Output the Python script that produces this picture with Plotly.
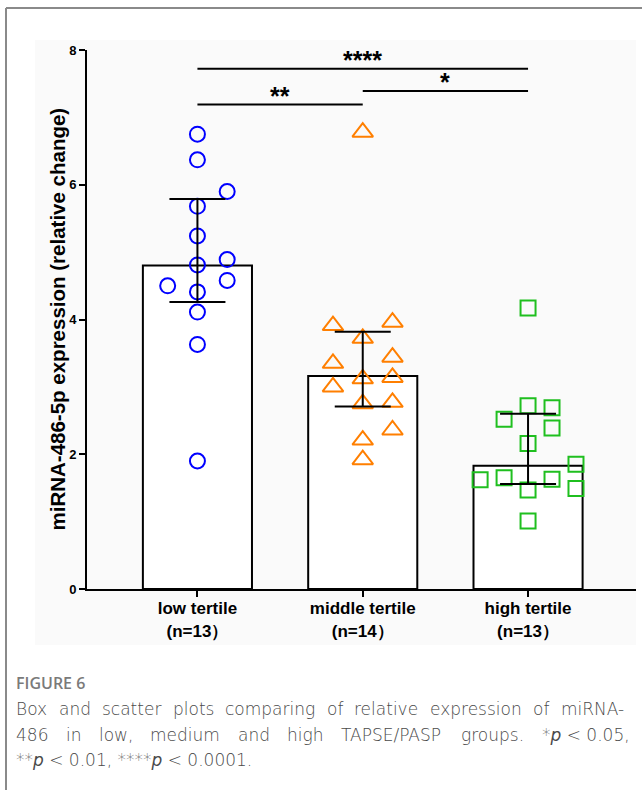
import plotly.graph_objects as go

# ---------------- data ----------------
groups = ["low tertile", "middle tertile", "high tertile"]
group_n = ["(n=13）", "(n=14）", "(n=13）"]

low_values = [6.75, 6.37, 5.90, 5.68, 5.24, 4.89, 4.81, 4.58, 4.50, 4.41, 4.11, 3.63, 1.90]
low_slots = [0, 0, 1, 0, 0, 1, 0, 1, -1, 0, 0, 0, 0]

mid_values = [6.78, 3.91, 3.96, 3.72, 3.35, 3.44, 3.14, 3.12, 3.00, 2.75, 2.77, 2.36, 2.21, 1.92]
mid_slots = [0, -1, 1, 0, -1, 1, 1, 0, -1, 0, 1, 1, 0, 0]

high_values = [4.17, 2.72, 2.69, 2.52, 2.39, 2.16, 1.85, 1.62, 1.65, 1.63, 1.49, 1.47, 1.01]
high_slots = [0, 0, 1, -1, 1, 0, 2, -2, -1, 1, 2, 0, 0]

medians = [4.80, 3.16, 1.83]
q1 = [4.26, 2.71, 1.56]
q3 = [5.79, 3.82, 2.60]

comparisons = [(0, 2, "****"), (1, 2, "*"), (0, 1, "**")]
bracket_levels = [7.72, 7.39, 7.19]

y_ticks = [0, 2, 4, 6, 8]

caption_title = "FIGURE 6"
caption_line1 = ["Box", "and", "scatter", "plots", "comparing", "of", "relative",
                 "expression", "of", "miRNA-"]
caption_line2 = ["486", "in", "low,", "medium", "and", "high", "TAPSE/PASP", "groups.",
                 "*<i>p</i> < 0.05,"]
caption_line3 = "**<i>p</i> < 0.01, ****<i>p</i> < 0.0001."

# ---------------- style ----------------
W, H = 642, 790
ML, MR, MT, MB = 87, 6, 50, 201
PW, PH = W - ML - MR, H - MT - MB
AX = "Liberation Sans, Arial, sans-serif"
CAP = "DejaVu Sans, sans-serif"


def px(x):
    return (x - ML) / PW


def py(y):
    return (H - MB - y) / PH


fig = go.Figure()

# bars (median)
fig.add_trace(go.Bar(
    x=[0, 1, 2], y=medians, width=0.66,
    marker=dict(color="white", line=dict(color="black", width=2)),
    showlegend=False, hoverinfo="skip"))

specs = [
    (0, low_values, low_slots, 0.18, "circle-open", "#0000ff", 15),
    (1, mid_values, mid_slots, 0.18, "triangle-up-open", "#ff7f00", 18),
    (2, high_values, high_slots, 0.145, "square-open", "#1fbf1f", 15),
]
for gi, vals, slots, step, sym, col, sz in specs:
    fig.add_trace(go.Scatter(
        x=[gi + s * step for s in slots], y=vals, mode="markers",
        marker=dict(symbol=sym, size=sz, color=col, line=dict(color=col, width=2)),
        showlegend=False))

# error bars (IQR) on top
fig.add_trace(go.Scatter(
    x=[0, 1, 2], y=medians, mode="markers",
    marker=dict(size=1, opacity=0),
    error_y=dict(type="data", symmetric=False,
                 array=[a - m for a, m in zip(q3, medians)],
                 arrayminus=[m - b for m, b in zip(medians, q1)],
                 color="black", thickness=2, width=28),
    showlegend=False, hoverinfo="skip"))

shapes = []
annotations = []
for (a, b, label), lvl in zip(comparisons, bracket_levels):
    shapes.append(dict(type="line", xref="x", yref="y", x0=a, x1=b, y0=lvl, y1=lvl,
                       line=dict(color="black", width=2)))
    annotations.append(dict(x=(a + b) / 2, y=lvl, xref="x", yref="y", text=label,
                            showarrow=False, yanchor="middle", yshift=9,
                            font=dict(family=AX, size=25, color="black", weight="bold")))

# background panel and frame
shapes.append(dict(type="rect", xref="paper", yref="paper", layer="below",
                   x0=px(35), x1=px(636), y0=py(645), y1=py(40),
                   fillcolor="#fafafa", line=dict(width=0)))
shapes.append(dict(type="line", xref="paper", yref="paper",
                   x0=px(6), x1=px(642), y0=py(8), y1=py(8),
                   line=dict(color="#8a8a8a", width=2)))
shapes.append(dict(type="line", xref="paper", yref="paper",
                   x0=px(6), x1=px(6), y0=py(8), y1=py(790),
                   line=dict(color="#8a8a8a", width=2)))

# y-axis title
annotations.append(dict(x=px(57), y=0.5, xref="paper", yref="paper",
                        text="miRNA-486-5p expression (relative change)", textangle=-90,
                        showarrow=False, xanchor="center", yanchor="middle",
                        font=dict(family=AX, size=20.5, color="black", weight="bold")))

# caption
gray = "#4a4a4a"
CS = 17
capfont = dict(family=CAP, size=CS, color=gray, weight=200)
annotations.append(dict(x=px(14), y=py(683), xref="paper", yref="paper", text=caption_title,
                        showarrow=False, xanchor="left", yanchor="middle",
                        font=dict(family="Open Sans, sans-serif", size=16, color="#7a7a7a",
                                  weight=600)))
line1_x = [14, 57, 100, 170.5, 223, 324.5, 352, 427.5, 531, 558.5]
for w, xx in zip(caption_line1, line1_x):
    annotations.append(dict(x=px(xx), y=py(709), xref="paper", yref="paper", text=w,
                            showarrow=False, xanchor="left", yanchor="middle", font=capfont))
line2_x = [14, 63.5, 96.5, 148, 235.5, 284.5, 339, 459, 540]
for w, xx in zip(caption_line2, line2_x):
    annotations.append(dict(x=px(xx), y=py(735), xref="paper", yref="paper", text=w,
                            showarrow=False, xanchor="left", yanchor="middle", font=capfont))
annotations.append(dict(x=px(14), y=py(760), xref="paper", yref="paper",
                        text=caption_line3, showarrow=False, xanchor="left",
                        yanchor="middle", font=capfont))

fig.update_layout(
    width=W, height=H,
    margin=dict(l=ML, r=MR, t=MT, b=MB, pad=0),
    paper_bgcolor="white", plot_bgcolor="rgba(0,0,0,0)",
    shapes=shapes, annotations=annotations, showlegend=False,
    xaxis=dict(range=[-0.668, 2.653], tickvals=[0, 1, 2],
               ticktext=[f"{g}<br>{n}" for g, n in zip(groups, group_n)],
               ticks="outside", ticklen=6, tickwidth=2, tickcolor="black",
               ticklabelstandoff=-3,
               showline=True, linewidth=2, linecolor="black",
               showgrid=False, zeroline=False,
               tickfont=dict(family=AX, size=17, color="black", weight="bold")),
    yaxis=dict(range=[0, 8], tickvals=y_ticks, ticks="outside", ticklen=6, tickwidth=2,
               tickcolor="black", showline=True, linewidth=2, linecolor="black",
               showgrid=False, zeroline=False,
               tickfont=dict(family=AX, size=13, color="black", weight="bold")),
)

fig.write_html("out.html", config={"displayModeBar": False},
               post_script="document.body.style.margin='0';document.body.style.overflow='hidden';")
